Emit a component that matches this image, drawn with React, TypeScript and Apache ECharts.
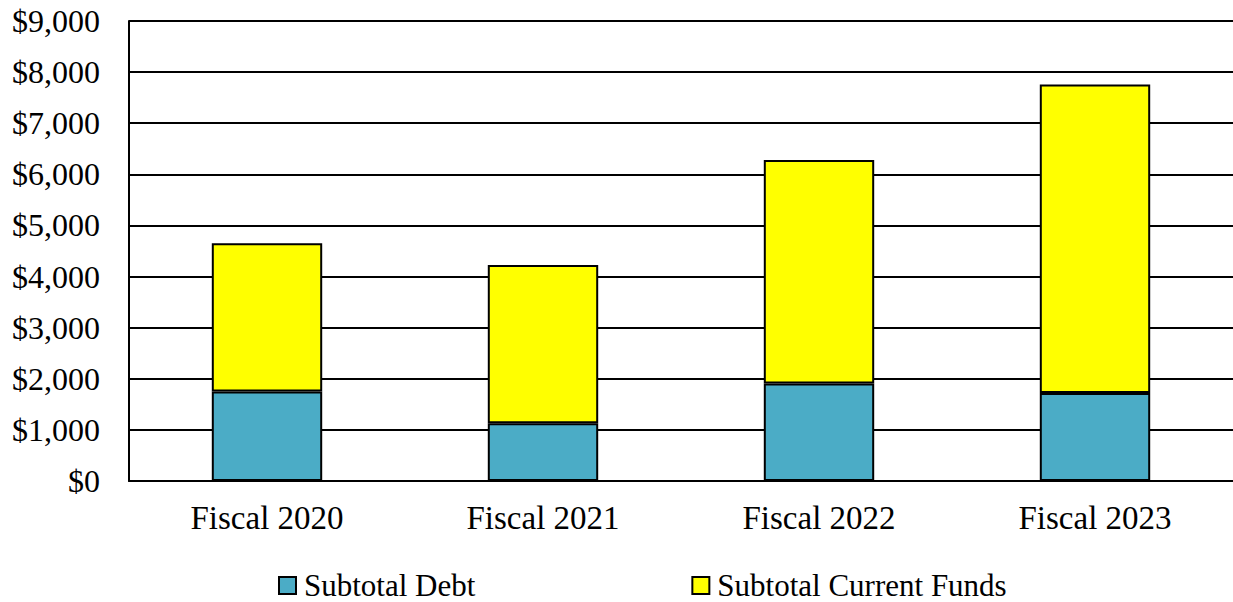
import React, { useEffect, useRef } from "react";
import * as echarts from "echarts";

const categories = ["Fiscal 2020", "Fiscal 2021", "Fiscal 2022", "Fiscal 2023"];
const subtotalDebt = [1750, 1130, 1910, 1720];
const subtotalCurrentFunds = [2900, 3095, 4370, 6040];
const yTicks = { min: 0, max: 9000, interval: 1000 };

const FONT = "'Liberation Serif', 'Times New Roman', serif";

export default function App() {
  const ref = useRef<HTMLDivElement>(null);
  useEffect(() => {
    if (!ref.current) return;
    const chart = echarts.init(ref.current, undefined, { renderer: "svg" });
    chart.setOption({
      animation: false,
      backgroundColor: "#ffffff",
      textStyle: { fontFamily: FONT },
      grid: { left: 129, right: 0, top: 21, bottom: 121, containLabel: false },
      legend: {
        left: 278,
        top: 570,
        padding: 0,
        itemWidth: 17,
        itemHeight: 17,
        itemGap: 216,
        icon: "rect",
        textStyle: { fontFamily: FONT, fontSize: 31, color: "#000", padding: [0, 0, 0, 3] },
        data: [
          { name: "Subtotal Debt", itemStyle: { borderColor: "#000", borderWidth: 2 } },
          { name: "Subtotal Current Funds", itemStyle: { borderColor: "#000", borderWidth: 2 } },
        ],
      },
      xAxis: {
        type: "category",
        data: categories,
        axisLine: { lineStyle: { color: "#000", width: 2 } },
        axisTick: { show: false },
        axisLabel: { fontFamily: FONT, fontSize: 33, color: "#000", margin: 20 },
      },
      yAxis: {
        type: "value",
        min: yTicks.min,
        max: yTicks.max,
        interval: yTicks.interval,
        axisLine: { show: true, lineStyle: { color: "#000", width: 2 } },
        axisTick: { show: false },
        splitLine: { lineStyle: { color: "#000", width: 2 } },
        axisLabel: {
          fontFamily: FONT,
          fontSize: 32,
          color: "#000",
          margin: 29,
          formatter: (v: number) => "$" + v.toLocaleString("en-US"),
        },
      },
      series: [
        {
          name: "Subtotal Debt",
          type: "bar",
          stack: "total",
          barWidth: "40%",
          data: subtotalDebt,
          itemStyle: { color: "#4BACC6", borderColor: "#000", borderWidth: 2 },
        },
        {
          name: "Subtotal Current Funds",
          type: "bar",
          stack: "total",
          barWidth: "40%",
          data: subtotalCurrentFunds,
          itemStyle: { color: "#FFFF00", borderColor: "#000", borderWidth: 2 },
        },
      ],
    });
    return () => chart.dispose();
  }, []);
  return (
    <div
      ref={ref}
      style={{ position: "fixed", left: 0, top: 0, width: 1233, height: 602, background: "#fff" }}
    />
  );
}
